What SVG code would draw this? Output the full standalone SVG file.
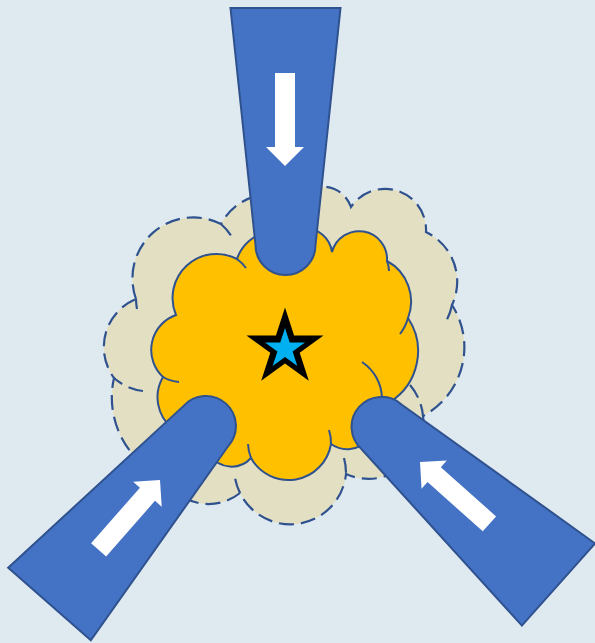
<svg xmlns="http://www.w3.org/2000/svg" width="595" height="643" viewBox="0 0 595 643">
  <defs>
    <style>
      .outer { fill: #e3dfc3; stroke: #2f528f; stroke-width: 2.2; stroke-dasharray: 15 7; }
      .outer-crease { fill: none; stroke: #2f528f; stroke-width: 2.2; stroke-dasharray: 15 7; }
      .inner { fill: #ffc000; stroke: #2f528f; stroke-width: 2; }
      .inner-crease { fill: none; stroke: #2f528f; stroke-width: 2; }
      .funnel { fill: #4472c4; stroke: #2f528f; stroke-width: 2; stroke-linejoin: miter; }
      .arrow { fill: #ffffff; }
    </style>
    <path id="funnel-shape" d="M-55,0 L55,0 L30,237 A30,30 0 0 1 -30,237 Z"/>
    <path id="arrow-shape" d="M0,0 L19,-19 L10,-19 L10,-93 L-10,-93 L-10,-19 L-19,-19 Z"/>
  </defs>

  <rect x="0" y="0" width="595" height="643" fill="#dfe9f0"/>

  <g id="outer-cloud">
    <path class="outer" d="M136,299 A61,61 0 0 1 221,224 A57,57 0 0 1 290,197 L318,187 A30,30 0 0 1 351,207 A41,41 0 0 1 426,232 A55,55 0 0 1 452,305 A78,78 0 0 1 423,416 A55,55 0 0 1 346,474 A56,56 0 0 1 240,493 A50,50 0 0 1 180,495 L150,470 A88,88 0 0 1 114,378 A52,52 0 0 1 136,299 Z"/>
    <path class="outer-crease" d="M137,309 A61,61 0 0 1 136,299"/>
    <path class="outer-crease" d="M143,391 A52,52 0 0 1 114,378"/>
    <path class="outer-crease" d="M221,224 A61,61 0 0 1 232,237"/>
    <path class="outer-crease" d="M452,305 A55,55 0 0 1 445,323"/>
    <path class="outer-crease" d="M410,385 A55,55 0 0 1 423,416"/>
    <path class="outer-crease" d="M344,458 A56,56 0 0 1 346,474"/>
    <path class="outer-crease" d="M240,493 A56,56 0 0 1 235,478"/>
  </g>

  <g id="inner-cloud">
    <path class="inner" d="M163,377 A37,37 0 0 1 176,315 A44,44 0 0 1 237,259 A40,40 0 0 1 268,232 L305,228 A28,28 0 0 1 332,252 A28,28 0 0 1 387,261 A46,46 0 0 1 408,318 A60,60 0 0 1 390,402 L368,440 A28,28 0 0 1 331,444 A43,43 0 0 1 251,458 A26,26 0 0 1 210,455 L172,428 A40,40 0 0 1 163,377 Z"/>
    <path class="inner-crease" d="M179,382 A37,37 0 0 1 163,377"/>
    <path class="inner-crease" d="M237,259 A44,44 0 0 1 246,268"/>
    <path class="inner-crease" d="M387,261 A28,28 0 0 1 389,271"/>
    <path class="inner-crease" d="M408,318 A46,46 0 0 1 400,334"/>
    <path class="inner-crease" d="M362,362 A45,45 0 0 1 382,398"/>
    <path class="inner-crease" d="M329,430 A43,43 0 0 1 331,444"/>
    <path class="inner-crease" d="M251,458 A43,43 0 0 1 248,444"/>
  </g>

  <g id="star">
    <polygon fill="#000000" points="285,307.5 294.09,335.48 323.52,335.49 299.71,352.78 308.81,380.76 285,363.47 261.19,380.76 270.29,352.78 246.48,335.49 275.91,335.48"/>
    <polygon fill="#00b0f0" points="285,328 289.71,342.51 304.97,342.51 292.63,351.48 297.34,365.99 285,357.02 272.66,365.99 277.37,351.48 265.03,342.51 280.29,342.51"/>
  </g>

  <g id="funnel-top">
    <use href="#funnel-shape" class="funnel" transform="translate(285.5,8)"/>
    <use href="#arrow-shape" class="arrow" transform="translate(285,166)"/>
  </g>

  <g id="funnel-left">
    <use href="#funnel-shape" class="funnel" transform="translate(49.5,604) rotate(-138.7)"/>
    <use href="#arrow-shape" class="arrow" transform="translate(160,480) rotate(-138.7)"/>
  </g>

  <g id="funnel-right">
    <use href="#funnel-shape" class="funnel" transform="translate(558.5,584.5) rotate(131.7)"/>
    <use href="#arrow-shape" class="arrow" transform="translate(420,462) rotate(131.7)"/>
  </g>
</svg>
